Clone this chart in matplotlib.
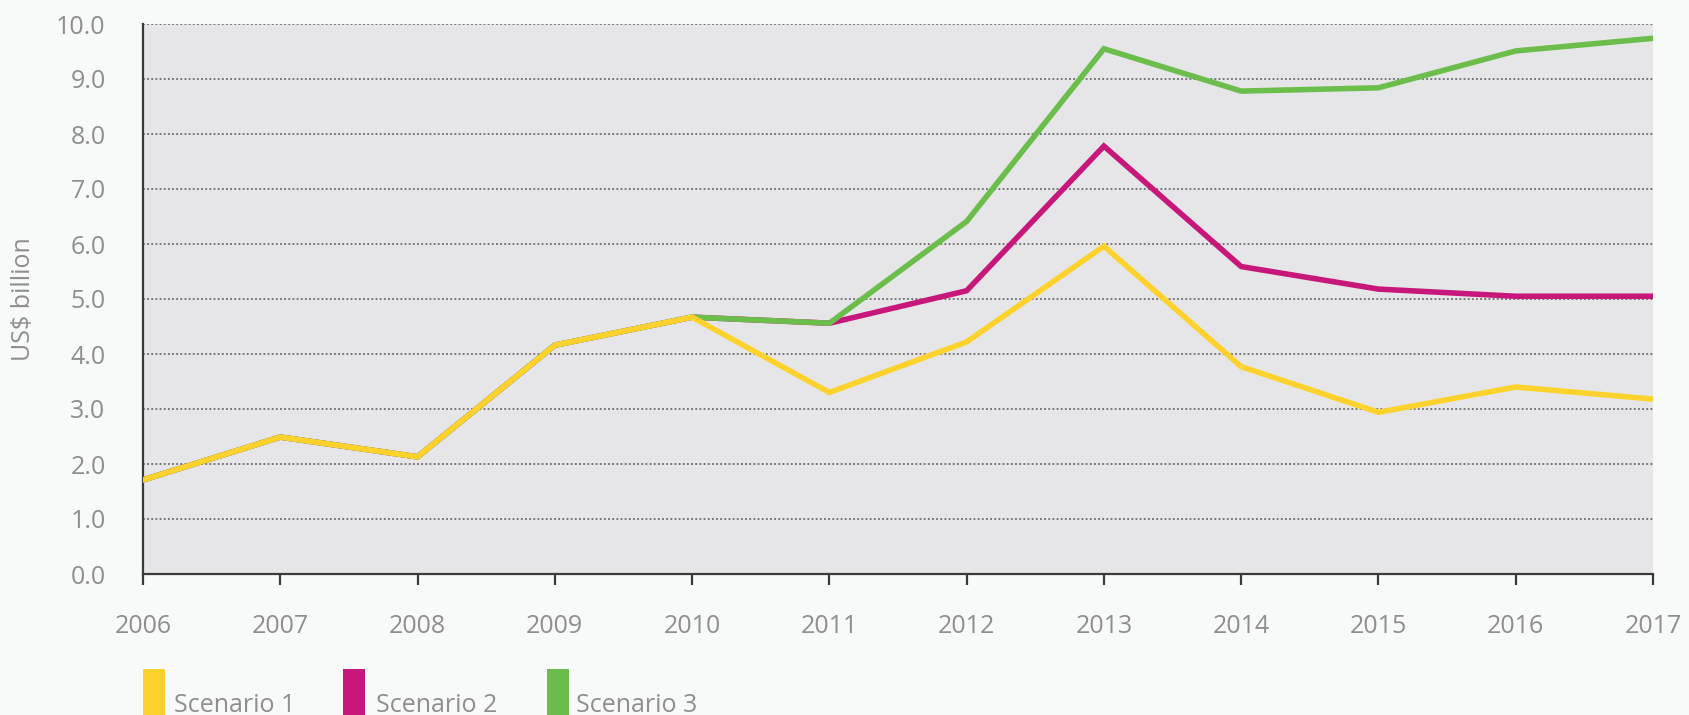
import matplotlib
matplotlib.use("Agg")
import matplotlib.pyplot as plt
from matplotlib.patches import Rectangle

years = [2006, 2007, 2008, 2009, 2010, 2011, 2012, 2013, 2014, 2015, 2016, 2017]
scenario1 = [1.71, 2.49, 2.13, 4.16, 4.67, 3.30, 4.22, 5.96, 3.77, 2.94, 3.40, 3.18]
scenario2 = [1.71, 2.49, 2.13, 4.16, 4.67, 4.56, 5.15, 7.78, 5.59, 5.18, 5.05, 5.05]
scenario3 = [1.71, 2.49, 2.13, 4.16, 4.67, 4.56, 6.41, 9.55, 8.78, 8.84, 9.51, 9.74]
series_names = ["Scenario 1", "Scenario 2", "Scenario 3"]
colors = ["#fdd22c", "#c8177b", "#6cbe4c"]
y_ticks = [0, 1, 2, 3, 4, 5, 6, 7, 8, 9, 10]
y_label = "US$ billion"

plt.rcParams['font.family'] = ['Open Sans', 'DejaVu Sans']
W, H = 1689, 715
fig = plt.figure(figsize=(W / 100, H / 100), dpi=100, facecolor="#f8f9f9")
L, R, T, B = 143, 1653, 24, 574
ax = fig.add_axes([L / W, (H - B) / H, (R - L) / W, (B - T) / H])
ax.set_facecolor("#e6e6e8")

for v in y_ticks[1:]:
    ax.axhline(v, color="#6a6a6a", linestyle=(0, (1, 1.3)), linewidth=1.3, zorder=1)

# draw order: scenario 2, scenario 3, scenario 1 on top
data = [scenario1, scenario2, scenario3]
for idx, z in zip([1, 2, 0], [3, 4, 5]):
    ax.plot(years, data[idx], color=colors[idx], linewidth=4.0, zorder=z,
            solid_joinstyle="miter")

ax.set_xlim(years[0], years[-1])
ax.set_ylim(0, 10)
ax.set_xticks(years)
ax.set_xticklabels([str(y) for y in years])
ax.set_yticks(y_ticks)
ax.set_yticklabels([f"{v:.1f}" for v in y_ticks])

for s in ["top", "right"]:
    ax.spines[s].set_visible(False)
for s in ["left", "bottom"]:
    ax.spines[s].set_color("#3a3a3a")
    ax.spines[s].set_linewidth(1.6)
ax.spines["bottom"].set_zorder(6)

ax.tick_params(axis="x", length=8, width=1.6, color="#3a3a3a", pad=21,
               labelsize=18, labelcolor="#8e8e8e")
ax.tick_params(axis="y", length=0, pad=27, labelsize=18, labelcolor="#8e8e8e")
ax.set_axisbelow(False)

fig.text(24 / W, 1 - 299 / H, y_label, rotation=90, ha="center", va="center",
         fontsize=18, color="#8e8e8e")

# legend
patch_x = [143, 343, 547]
text_x = [174, 376, 576]
for name, c, px, tx in zip(series_names, colors, patch_x, text_x):
    fig.patches.append(Rectangle((px / W, 0), 22 / W, (H - 669) / H,
                                 transform=fig.transFigure, facecolor=c,
                                 edgecolor="none"))
    fig.text(tx / W, 1 - 712 / H, name, ha="left", va="baseline",
             fontsize=18, color="#8e8e8e")

fig.savefig("out.png", dpi=100, facecolor=fig.get_facecolor())
